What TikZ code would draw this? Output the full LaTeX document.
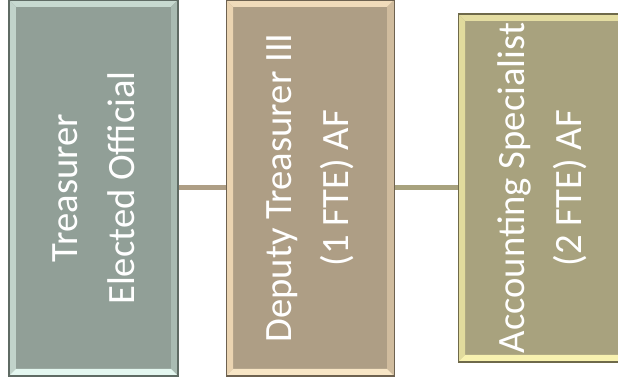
\documentclass[tikz,border=0pt]{standalone}
\usepackage{fontspec}
\setmainfont{Carlito}
\usetikzlibrary{positioning, calc}

% box colours: face, outline, top, left, right, bottom bevel
\definecolor{treasFace}{HTML}{919F97}
\definecolor{treasLine}{HTML}{5F6B64}
\definecolor{treasTop}{HTML}{C7D9D0}
\definecolor{treasLeft}{HTML}{C1D3CA}
\definecolor{treasRight}{HTML}{A9BBB2}
\definecolor{treasBot}{HTML}{E4F7F0}

\definecolor{deputyFace}{HTML}{AE9E85}
\definecolor{deputyLine}{HTML}{6E6250}
\definecolor{deputyTop}{HTML}{F0DBBA}
\definecolor{deputyLeft}{HTML}{EBD4B1}
\definecolor{deputyRight}{HTML}{D0BC9E}
\definecolor{deputyBot}{HTML}{F8E6C6}

\definecolor{acctFace}{HTML}{A8A27E}
\definecolor{acctLine}{HTML}{6F6A4A}
\definecolor{acctTop}{HTML}{E4DDA2}
\definecolor{acctLeft}{HTML}{E1DB9D}
\definecolor{acctRight}{HTML}{C8C290}
\definecolor{acctBot}{HTML}{F8F2B0}

\newcommand{\bevw}{0.14cm}

\tikzset{
  post/.style n args={6}{rectangle, inner sep=0pt, fill=#1, draw=#2, line width=0.6pt,
    path picture={
      \fill[#3] (path picture bounding box.north west) -- (path picture bounding box.north east)
        -- ([shift={(-\bevw,-\bevw)}]path picture bounding box.north east)
        -- ([shift={(\bevw,-\bevw)}]path picture bounding box.north west) -- cycle;
      \fill[#4] (path picture bounding box.north west) -- (path picture bounding box.south west)
        -- ([shift={(\bevw,\bevw)}]path picture bounding box.south west)
        -- ([shift={(\bevw,-\bevw)}]path picture bounding box.north west) -- cycle;
      \fill[#5] (path picture bounding box.north east) -- (path picture bounding box.south east)
        -- ([shift={(-\bevw,\bevw)}]path picture bounding box.south east)
        -- ([shift={(-\bevw,-\bevw)}]path picture bounding box.north east) -- cycle;
      \fill[#6] (path picture bounding box.south west) -- (path picture bounding box.south east)
        -- ([shift={(-\bevw,\bevw)}]path picture bounding box.south east)
        -- ([shift={(\bevw,\bevw)}]path picture bounding box.south west) -- cycle;
    }},
  postlabel/.style={rotate=90, text=white, align=center, inner sep=0pt,
    font=\fontsize{22}{32.5}\selectfont},
  link/.style={line width=0.1cm}
}

\begin{document}
\begin{tikzpicture}
  \clip (0,0) rectangle (12.36,7.66);
  \fill[white] (0,0) rectangle (12.36,7.66);

  % the three posts
  \node[post={treasFace}{treasLine}{treasTop}{treasLeft}{treasRight}{treasBot},
        minimum width=3.38cm, minimum height=7.52cm] (treas) at (1.87,3.9) {};
  \node[post={deputyFace}{deputyLine}{deputyTop}{deputyLeft}{deputyRight}{deputyBot},
        minimum width=3.36cm, minimum height=7.52cm, right=0.94cm of treas] (deputy) {};
  \node[post={acctFace}{acctLine}{acctTop}{acctLeft}{acctRight}{acctBot},
        minimum width=3.36cm, minimum height=6.96cm, right=1.26cm of deputy] (acct) {};

  % titles
  \node[postlabel] (treasTxt) at (treas) {Treasurer\\Elected Official};
  \node[postlabel] (deputyTxt) at (deputy) {Deputy Treasurer III\\(1 FTE) AF};
  \node[postlabel] (acctTxt) at (acct) {Accounting Specialist\\(2 FTE) AF};

  % links between posts
  \draw[link, deputyFace] (treas.east) -- (deputy.west);
  \draw[link, acctFace] (deputy.east) -- (acct.west);
\end{tikzpicture}
\end{document}
